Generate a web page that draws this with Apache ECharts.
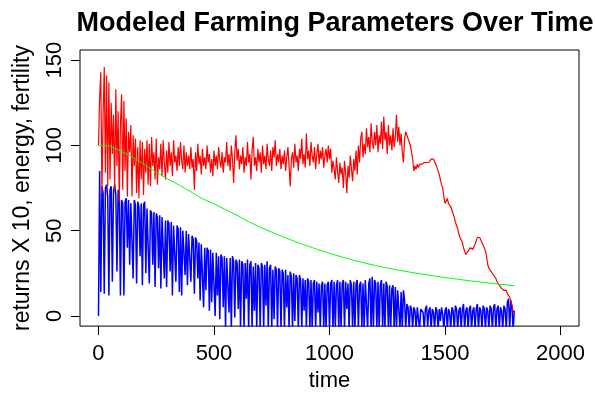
<!DOCTYPE html>
<html>
<head>
<meta charset="utf-8">
<script src="https://cdn.jsdelivr.net/npm/echarts@6/dist/echarts.min.js"></script>
<style>
  html, body { margin: 0; padding: 0; background: #fff; }
  #chart { width: 595px; height: 397px; }
</style>
</head>
<body>
<div id="chart"></div>
<script>
// time runs 0..1800, one reading every 5 time units
const timeStep = 5;

// returns X 10 (red)
const redValues = [
  100, 128, 143, 72, 118, 146, 84, 141, 76, 137, 80, 125, 95, 118, 74, 133, 88, 120, 67, 112,
  130, 74, 126, 85, 116, 70, 108, 96, 112, 70, 106, 88, 104, 72, 99, 69, 103, 80, 102, 71,
  98, 84, 103, 77, 101, 76, 105, 88, 96, 80, 104, 77, 93, 86, 101, 82, 103, 90, 80, 97,
  84, 102, 88, 96, 82, 103, 90, 94, 85, 99, 88, 102, 91, 86, 100, 84, 96, 88, 94, 86,
  99, 87, 92, 74, 96, 85, 101, 89, 94, 83, 98, 88, 93, 86, 100, 90, 95, 84, 92, 82,
  97, 88, 94, 86, 99, 91, 87, 96, 84, 93, 90, 102, 88, 95, 85, 100, 92, 78, 96, 106,
  91, 98, 86, 94, 89, 99, 84, 93, 88, 102, 90, 95, 80, 97, 105, 88, 93, 85, 98, 90,
  96, 84, 100, 89, 94, 86, 101, 92, 88, 97, 85, 99, 93, 103, 88, 95, 90, 98, 86, 94,
  89, 97, 85, 93, 99, 88, 76, 92, 96, 87, 101, 90, 94, 85, 98, 92, 104, 89, 95, 87,
  107, 92, 97, 88, 102, 94, 90, 99, 86, 95, 101, 89, 97, 92, 99, 87, 94, 98, 90, 100,
  92, 98, 84, 91, 86, 80, 93, 85, 78, 90, 83, 87, 75, 91, 84, 72, 88, 81, 94, 86,
  79, 92, 85, 97, 83, 100, 90, 104, 108, 93, 101, 95, 110, 99, 105, 96, 113, 102, 98, 108,
  100, 112, 96, 106, 101, 114, 98, 117, 103, 108, 95, 112, 100, 106, 97, 110, 99, 105, 118, 102,
  111, 100, 107, 96, 90, 104, 108, 106, 104, 102, 100, 96, 92, 85, 88, 86, 89, 87, 89, 88,
  89, 88, 90, 89, 90, 91, 90, 91, 92, 91, 92, 92, 89, 87, 86, 83, 80, 77, 75, 70,
  66, 67, 69, 66, 67, 64, 62, 61, 58, 55, 53, 51, 48, 46, 45, 43, 40, 38, 36, 37,
  38, 39, 40, 41, 39, 40, 42, 44, 46, 45, 46, 45, 43, 42, 40, 38, 35, 30, 28, 27,
  26, 25, 24, 23, 22, 20, 19, 18, 17, 16, 16, 15, 14, 15, 13, 12, 11, 9, 6, 3,
  1
];

// energy (blue)
const blueValues = [
  0, 85, 14, 76, 72, 13, 75, 77, 70, 12, 74, 76, 20, 73, 77, 71, 26, 74, 70, 12,
  68, 66, 12, 67, 69, 40, 68, 30, 66, 67, 22, 68, 65, 19, 67, 64, 35, 66, 18, 65,
  67, 25, 63, 64, 19, 62, 60, 30, 61, 17, 60, 58, 28, 59, 16, 58, 57, 22, 56, 17,
  56, 54, 26, 55, 12, 53, 52, 20, 53, 51, 14, 52, 12, 50, 49, 24, 50, 18, 48, 47,
  20, 47, 45, 13, 46, 44, 22, 43, 9, 42, 41, 5, 40, 15, 40, 38, 3, 39, 8, 37,
  36, 0, 37, 12, 35, -2, 36, 34, 5, 35, -7, 34, 33, 2, 34, -8, 35, 32, -1, 33,
  31, 4, 33, -8, 32, 30, -8, 31, 10, 33, -8, 30, 32, -8, 29, 3, 31, -8, 30, 28,
  -8, 31, 29, -8, 30, 6, 32, -8, 28, 30, -8, 27, -2, 29, 27, -8, 28, 26, -8, 27,
  25, -8, 27, 5, 24, -8, 26, 23, -8, 25, -3, 24, 22, -8, 24, 21, -8, 22, 3, 21,
  -8, 22, 20, -8, 21, -8, 19, 21, -8, 20, 2, 19, -8, 18, 20, -8, 19, -8, 18, 20,
  -8, 19, 21, -8, 20, -8, 18, 21, -8, 20, -8, 19, 21, -8, 20, 4, 19, -8, 21, 18,
  -8, 20, -8, 19, 21, -8, 18, 20, -8, 19, -8, 21, 20, -8, 19, 22, -8, 23, -8, 21,
  19, -8, 20, -8, 18, 21, -8, 19, -8, 20, 17, -8, 18, -8, 16, 18, -8, 17, -8, 15,
  16, -8, 14, -8, 15, 9, -8, 7, 5, -8, 6, 4, -8, 5, 3, -8, 5, 6, -8, 4,
  5, 2, -8, 4, 6, -6, 3, 5, -8, 4, 2, -8, 5, 3, -8, 4, -3, 5, 1, -8,
  3, 5, -8, 4, 2, -8, 5, 3, -8, 6, 4, -8, 3, 5, -8, 4, 7, -8, 3, 5,
  -8, 4, 6, -8, 3, 5, -8, 4, 7, -8, 5, 3, -8, 6, 4, -8, 5, 3, -8, 6,
  4, -8, 5, 7, -8, 4, 6, -8, 5, 3, -8, 6, 4, -8, 8, 10, -8, 9, 5, -8,
  3
];

// fertility (green)
const greenTimes = [0, 50, 100, 150, 200, 250, 300, 350, 400, 450, 500, 550, 600, 650, 700, 750, 800, 850, 900,
  950, 1000, 1050, 1100, 1150, 1200, 1250, 1300, 1350, 1400, 1450, 1500, 1550, 1600, 1650, 1700, 1750, 1800];
const greenValues = [100, 99.6, 96.5, 93, 88.7, 84.3, 80.3, 76.7, 72.8, 68.7, 65.7, 62.3, 59, 55.3, 52, 49.1, 46.3, 43.7, 41.2,
  38.9, 36.7, 34.7, 32.8, 31.1, 29.5, 28.1, 26.8, 25.6, 24.5, 23.5, 22.5, 21.6, 20.7, 19.9, 19.1, 18.4, 17.7];

const xTicks = [0, 500, 1000, 1500, 2000];
const yTicks = [0, 50, 100, 150];

const toPairs = (vals) => vals.map((v, i) => [i * timeStep, v]);
const greenPairs = greenTimes.map((t, i) => [t, greenValues[i]]);

const font = 'Liberation Sans, Arial, Helvetica, sans-serif';

const chart = echarts.init(document.getElementById('chart'), null, { renderer: 'canvas' });

const option = {
  animation: false,
  backgroundColor: '#fff',
  title: {
    text: 'Modeled Farming Parameters Over Time',
    left: 330,
    top: 5,
    textAlign: 'center',
    textStyle: { fontFamily: font, fontWeight: 'bold', fontSize: 27, color: '#000' }
  },
  grid: {
    left: 80,
    right: 16,
    top: 50,
    bottom: 68,
    show: true,
    borderColor: '#000',
    borderWidth: 1,
    backgroundColor: 'transparent'
  },
  xAxis: {
    type: 'value',
    min: -80,
    max: 2080,
    name: 'time',
    nameLocation: 'middle',
    nameGap: 43,
    nameTextStyle: { fontFamily: font, fontSize: 22, color: '#000' },
    axisLine: { show: false, onZero: false },
    axisTick: { show: true, length: 9, customValues: xTicks, lineStyle: { color: '#000' } },
    axisLabel: {
      customValues: xTicks,
      margin: 17,
      fontFamily: font,
      fontSize: 22,
      color: '#000',
      formatter: (v) => String(v)
    },
    splitLine: { show: false }
  },
  yAxis: {
    type: 'value',
    min: -6,
    max: 156,
    name: 'returns X 10, energy, fertility',
    nameLocation: 'middle',
    nameRotate: 90,
    nameGap: 46,
    nameTextStyle: { fontFamily: font, fontSize: 23, color: '#000' },
    axisLine: { show: false, onZero: false },
    axisTick: { show: true, length: 9, customValues: yTicks, lineStyle: { color: '#000' } },
    axisLabel: {
      customValues: yTicks,
      rotate: 90,
      margin: 14,
      fontFamily: font,
      fontSize: 22,
      color: '#000',
      formatter: (v) => String(v)
    },
    splitLine: { show: false }
  },
  series: [
    {
      name: 'energy',
      type: 'line',
      data: toPairs(blueValues),
      showSymbol: false,
      lineStyle: { color: '#0000ff', width: 1.5 },
      itemStyle: { color: '#0000ff' }
    },
    {
      name: 'returns',
      type: 'line',
      data: toPairs(redValues),
      showSymbol: false,
      lineStyle: { color: '#ff0000', width: 1.2 },
      itemStyle: { color: '#ff0000' }
    },
    {
      name: 'fertility',
      type: 'line',
      data: greenPairs,
      showSymbol: false,
      lineStyle: { color: '#00ff00', width: 1 },
      itemStyle: { color: '#00ff00' }
    }
  ]
};

chart.setOption(option);
</script>
</body>
</html>
